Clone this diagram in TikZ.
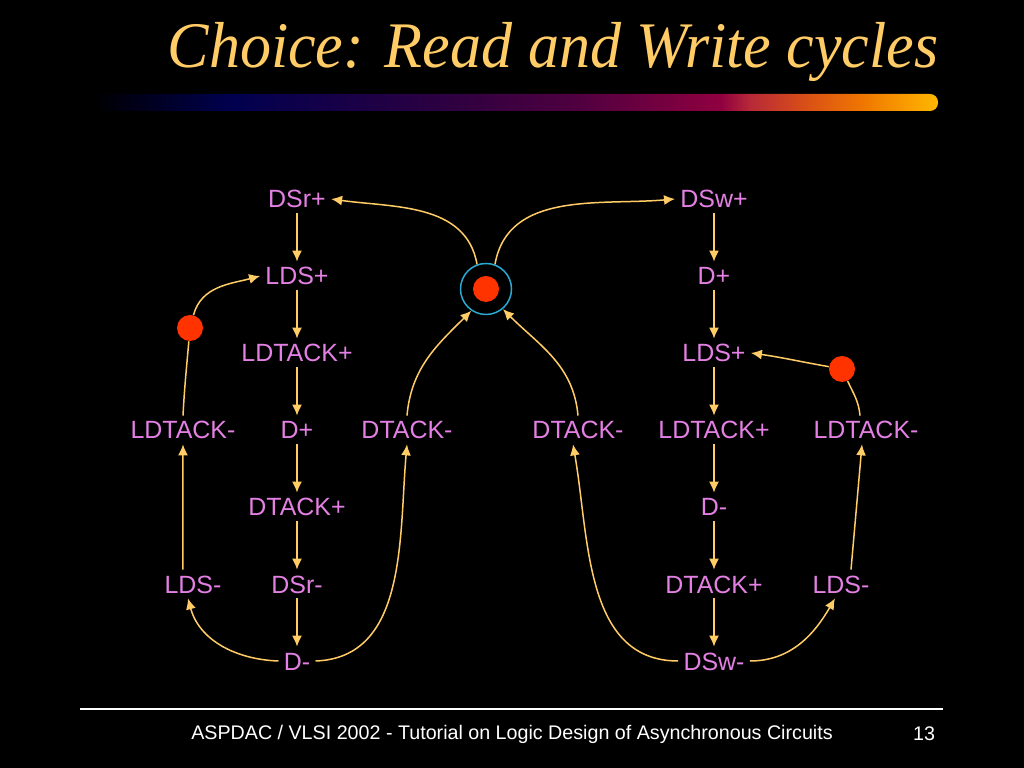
\documentclass[tikz,border=0pt]{standalone}
\usepackage{fontspec}
\setmainfont{Liberation Sans}
\newfontfamily\titlefont{Liberation Serif}
\usepackage{xcolor}
\usetikzlibrary{arrows.meta,positioning}
\definecolor{evcol}{RGB}{228,128,228}
\definecolor{flowcol}{RGB}{255,204,102}
\definecolor{tokcol}{RGB}{255,51,0}
\definecolor{placecol}{RGB}{40,170,210}
\definecolor{titlecol}{RGB}{255,204,102}
\pgfdeclarehorizontalshading{titlebar}{100bp}{rgb(0bp)=(0,0,0); rgb(26bp)=(0,0,0);
  rgb(34bp)=(0,0,0.31); rgb(47.4bp)=(0.19,0,0.25); rgb(54bp)=(0.31,0,0.25);
  rgb(62.4bp)=(0.56,0,0.25); rgb(64.1bp)=(0.72,0.16,0.22); rgb(67.3bp)=(0.85,0.31,0.09);
  rgb(70.7bp)=(0.94,0.47,0); rgb(75bp)=(1,0.72,0); rgb(100bp)=(1,0.72,0)}
\tikzset{%
  % events and places
  evt/.style={text=evcol, font=\fontsize{14.2}{17}\selectfont, inner sep=1mm,
    text height=3.6mm, text depth=0pt},
  choiceplace/.style={circle, draw=placecol, line width=0.3mm, minimum size=10.2mm, inner sep=0pt},
  tokendot/.style={circle, fill=tokcol, minimum size=5.2mm, inner sep=0pt},
  % arcs
  flow/.style={draw=flowcol, line width=0.3mm, -{Latex[length=2.2mm,width=2mm]}},
  plainflow/.style={draw=flowcol, line width=0.3mm},
}

\begin{document}
\begin{tikzpicture}[x=0.2mm, y=-0.2mm, node distance=15.4mm, on grid]
  \fill[black] (0,0) rectangle (1024,768);
  \useasboundingbox (0,0) rectangle (1024,768);

  % Title
  \node[anchor=base, text=titlecol, xscale=0.955,
    font=\titlefont\itshape\fontsize{37}{44}\selectfont]
    (title) at (553,68) {Choice: Read and Write cycles};
  \shade[shading=titlebar, rounded corners=1.6mm] (75,94) rectangle (938,111);

  % Read cycle
  \node[evt] (rdsrp) at (297,199) {DSr+};
  \node[evt, below=of rdsrp] (rldsp) {LDS+};
  \node[evt, below=of rldsp] (rldtackp) {LDTACK+};
  \node[evt, below=of rldtackp] (rdp) {D+};
  \node[evt, below=of rdp] (rdtackp) {DTACK+};
  \node[evt, below=of rdtackp] (rdsrm) {DSr-};
  \node[evt, below=of rdsrm] (rdm) {D-};
  \node[evt, left=22.8mm of rdp] (rldtackm) {LDTACK-};
  \node[evt, left=20.8mm of rdsrm] (rldsm) {LDS-};
  \node[evt, right=22mm of rdp] (rdtackm) {DTACK-};

  % Write cycle
  \node[evt] (wdswp) at (714,199) {DSw+};
  \node[evt, below=of wdswp] (wdp) {D+};
  \node[evt, below=of wdp] (wldsp) {LDS+};
  \node[evt, below=of wldsp] (wldtackp) {LDTACK+};
  \node[evt, below=of wldtackp] (wdm) {D-};
  \node[evt, below=of wdm] (wdtackp) {DTACK+};
  \node[evt, below=of wdtackp] (wdswm) {DSw-};
  \node[evt, left=27.2mm of wldtackp] (wdtackm) {DTACK-};
  \node[evt, right=30.4mm of wldtackp] (wldtackm) {LDTACK-};
  \node[evt, right=25.4mm of wdtackp] (wldsm) {LDS-};

  % Choice place and tokens
  \node[choiceplace] (choice) at (486,289) {};
  \node[tokendot] (choicetok) at (choice) {};
  \node[tokendot] (tokr) at (190,328) {};
  \node[tokendot] (tokw) at (842,369) {};

  % Read arcs
  \draw[flow] (rdsrp) -- (rldsp);
  \draw[flow] (rldsp) -- (rldtackp);
  \draw[flow] (rldtackp) -- (rdp);
  \draw[flow] (rdp) -- (rdtackp);
  \draw[flow] (rdtackp) -- (rdsrm);
  \draw[flow] (rdsrm) -- (rdm);
  \draw[flow] (rdm.west) to[out=178,in=-75] ([xshift=-1mm]rldsm.south);
  \draw[flow] ([xshift=-2mm]rldsm.north) -- (rldtackm.south);
  \draw[plainflow] (rldtackm.north) to[out=87,in=-95] (tokr);
  \draw[flow] (tokr) to[out=75,in=195] (rldsp.west);
  \draw[flow] (rdm.east) to[out=2,in=-95] (rdtackm.south);
  \draw[flow] (rdtackm.north) to[out=85,in=225] (choice.236);

  % Write arcs
  \draw[flow] (wdswp) -- (wdp);
  \draw[flow] (wdp) -- (wldsp);
  \draw[flow] (wldsp) -- (wldtackp);
  \draw[flow] (wldtackp) -- (wdm);
  \draw[flow] (wdm) -- (wdtackp);
  \draw[flow] (wdtackp) -- (wdswm);
  \draw[flow] (wdswm.west) to[out=180,in=-80] ([xshift=-1mm]wdtackm.south);
  \draw[flow] (wdtackm.north) to[out=95,in=-45] (choice.310);
  \draw[flow] (wdswm.east) to[out=0,in=240] ([xshift=-1.2mm]wldsm.south);
  \draw[flow] ([xshift=2mm]wldsm.north) -- ([xshift=-0.8mm]wldtackm.south);
  \draw[plainflow] ([xshift=-1.2mm]wldtackm.north) to[out=95,in=-65] (tokw);
  \draw[flow] (tokw) to[out=170,in=-8] (wldsp.east);

  % Choice
  \draw[flow] (choice.110) to[out=100,in=-8] (rdsrp.east);
  \draw[flow] (choice.70) to[out=80,in=185] (wdswp.west);

  % Footer
  \draw[white, line width=0.25mm] (80,709) -- (943,709);
  \node[text=white, font=\fontsize{11.2}{13}\selectfont] (foot) at (512,734)
    {ASPDAC / VLSI 2002 - Tutorial on Logic Design of Asynchronous Circuits};
  \node[text=white, font=\fontsize{11.2}{13}\selectfont] (pageno) at (924,734) {13};
\end{tikzpicture}
\end{document}
